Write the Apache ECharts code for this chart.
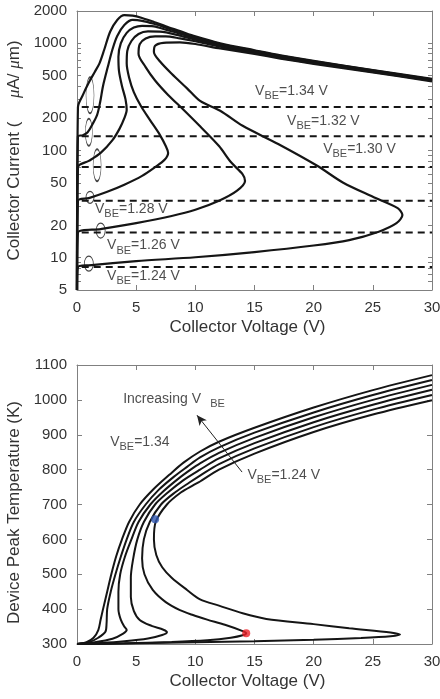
<!DOCTYPE html>
<html>
<head>
<meta charset="utf-8">
<script src="https://cdn.jsdelivr.net/npm/echarts@6/dist/echarts.min.js"></script>
<style>
html, body { margin: 0; padding: 0; background: #fff; }
#chart { width: 440px; height: 699px; }
</style>
</head>
<body>
<div id="chart"></div>
<script>
// V_BE of each curve, top to bottom
var vbeNames = ['1.34', '1.32', '1.30', '1.28', '1.26', '1.24'];

// top panel: collector current (uA/um) vs collector voltage (V)
var currentTicks = [5, 10, 20, 50, 100, 200, 500, 1000, 2000];
var currentMinorTicks = [6, 7, 8, 9, 30, 40, 60, 70, 80, 90, 300, 400, 600, 700, 800, 900];
var dashLevels = [254, 136, 70, 34, 17.2, 8.2];

var iv134 = [[0,5],[0.08,254],[0.5,330],[1.0,430],[1.5,540],[1.9,650],[2.3,870],[2.8,1280],[3.4,1650],[4.0,1830],[4.7,1810],[5.5,1720],[6.5,1580],[7.5,1440],[8.7,1300],[10,1160],[12.1,1000],[15,860],[17.2,770],[20,685],[25,563],[30,466]];
var iv132 = [[0,5],[0.08,136],[0.5,139],[0.9,148],[1.3,175],[1.7,215],[1.95,280],[2.2,400],[2.6,600],[3.0,880],[3.4,1170],[4.0,1480],[4.7,1650],[5.5,1620],[6.5,1520],[7.5,1400],[8.7,1265],[10,1135],[12.1,985],[15,850],[17.2,762],[20,678],[25,558],[30,462]];
var iv130 = [[0,5],[0.08,70],[1,80],[2,95],[3,125],[3.6,160],[4.0,200],[4.2,240],[4.1,300],[3.8,400],[3.55,550],[3.5,750],[3.7,1000],[4.2,1250],[4.8,1400],[5.5,1455],[6.5,1440],[7.5,1340],[8.7,1230],[10,1110],[12.1,968],[15,838],[17.2,752],[20,670],[25,553],[30,457]];
var iv128 = [[0,5],[0.08,34],[1,36],[2.5,41],[4,48],[5.5,58],[6.6,70],[7.4,82],[7.7,95],[7.5,110],[7,140],[6.2,190],[5.4,260],[4.8,350],[4.4,480],[4.2,650],[4.25,850],[4.6,1050],[5.2,1220],[6,1290],[7,1285],[8.7,1180],[10,1080],[12.1,950],[15,826],[17.2,742],[20,662],[25,548],[30,452]];
var iv126 = [[0,5],[0.08,17.2],[2,18.5],[5,21],[8,24.5],[10,28],[12,34],[13.5,42],[14.2,52],[14,60],[13,78],[12,110],[10.4,168],[9,240],[7.7,330],[6.6,450],[5.8,600],[5.2,800],[5.3,980],[5.8,1110],[6.6,1160],[7.5,1160],[8.7,1110],[10,1045],[12.1,928],[15,812],[17.2,732],[20,653],[25,542],[30,447]];
var iv124 = [[0,5],[0.08,8.2],[1,8.5],[5,9.3],[10,10.1],[15,11.3],[20,13],[23,14.6],[25.5,17.5],[27,21],[27.5,25],[27.1,29],[25,37],[22.5,50],[20.3,72],[17,115],[14,170],[12.1,235],[10.4,290],[9.3,380],[8,520],[7,680],[6.5,830],[6.6,950],[7.3,1010],[8.7,1020],[10,985],[12.1,895],[15,795],[17.2,720],[20,643],[25,536],[30,442]];
var ivCurves = [iv134, iv132, iv130, iv128, iv126, iv124];

// start-point ellipses and label anchors of the top panel
var ellipseCenters = [[1.1,328],[1.0,148],[1.7,73],[1.1,36.6],[2.0,17.9],[1.0,8.8]];
var topLabelAnchors = [[15.05,358],[17.75,188],[20.8,103],[1.52,28.2],[2.54,13.0],[2.54,6.8]];

// bottom panel: device peak temperature (K) vs collector voltage (V)
var tempTicks = [300, 400, 500, 600, 700, 800, 900, 1000, 1100];
var tv134 = [[0,300],[0.8,305],[1.4,318],[1.8,340],[2.0,370],[2.2,400],[2.55,450],[2.9,500],[3.3,550],[3.8,600],[4.4,650],[5.3,700],[6.5,745],[7.8,785],[9,820],[10.4,852],[12,880],[15,920],[20,978],[25,1028],[30,1071]];
var tv132 = [[0,300],[1,305],[1.8,318],[2.4,335],[2.5,360],[2.55,400],[2.85,450],[3.25,500],[3.7,550],[4.2,600],[4.8,650],[5.8,700],[6.9,742],[8.2,780],[9.3,808],[10.4,835],[12,864],[15,906],[20,964],[25,1014],[30,1057]];
var tv130 = [[0,300],[1.5,305],[3,315],[3.9,330],[4.2,340],[4.0,350],[3.7,370],[3.5,400],[3.5,450],[3.65,500],[4.05,550],[4.6,600],[5.2,650],[6.2,700],[7.3,738],[8.6,775],[9.6,800],[10.4,818],[12,848],[15,891],[20,950],[25,1000],[30,1043]];
var tv128 = [[0,300],[2,303],[4,308],[6,316],[7.2,326],[7.6,334],[7.3,341],[6.3,352],[5.3,369],[4.8,395],[4.55,435],[4.55,490],[4.75,545],[5.1,600],[5.65,650],[6.6,700],[7.7,735],[9,770],[10.4,800],[12,832],[15,876],[20,936],[25,986],[30,1029]];
var tv126 = [[0,300],[4,302],[8,306],[11,311],[13,318],[14,325],[14.3,331],[14,337],[12.5,355],[11,370],[9.8,383],[8.7,397],[7.5,420],[6.4,455],[5.7,500],[5.5,545],[5.65,600],[6.15,650],[7.1,700],[8.3,735],[9.5,763],[10.4,783],[12,816],[15,861],[20,922],[25,972],[30,1014]];
var tv124 = [[0,300],[5,302],[10,305],[15,308],[20,312],[24,317],[26.5,322],[27.3,327],[26.5,333],[23,345],[20,357],[16,372],[14,388],[12,410],[10.4,428],[9.3,455],[8,490],[7.2,520],[6.7,555],[6.5,600],[6.65,650],[7.6,700],[8.8,735],[9.8,755],[10.4,766],[12,800],[15,846],[20,908],[25,958],[30,999]];
var tvCurves = [tv134, tv132, tv130, tv128, tv126, tv124];

var bluePoint = [6.6, 658];
var redPoint = [14.3, 331];
var arrowFrom = [13.95, 793];
var arrowTo = [10.14, 956];

var font = '"Liberation Sans", Arial, sans-serif';
var textColor = '#333';
var axisColor = '#808080';
var curveColor = '#151515';

function lg(p) {
    return [p[0], Math.log10(p[1])];
}

function xAxes(grid) {
    return [{
        type: 'value', gridIndex: grid, min: 0, max: 30, interval: 5, position: 'bottom',
        name: 'Collector Voltage (V)', nameLocation: 'middle', nameGap: 29,
        nameTextStyle: { fontSize: 17, color: textColor, fontFamily: font, padding: [0, 14, 0, 0] },
        axisLine: { show: true, onZero: false, lineStyle: { color: axisColor, width: 1 } },
        axisTick: { show: true, inside: true, length: 5, lineStyle: { color: axisColor } },
        axisLabel: { fontSize: 15, color: textColor, fontFamily: font, margin: 10 },
        splitLine: { show: false }
    }, {
        type: 'value', gridIndex: grid, min: 0, max: 30, interval: 5, position: 'top',
        axisLine: { show: true, onZero: false, lineStyle: { color: axisColor, width: 1 } },
        axisTick: { show: true, inside: true, length: 5, lineStyle: { color: axisColor } },
        axisLabel: { show: false },
        splitLine: { show: false }
    }];
}

var logMajor = currentTicks.map(Math.log10);
var logAll = logMajor.concat(currentMinorTicks.map(Math.log10));

var yAxes = [{
    type: 'value', gridIndex: 0, position: 'left',
    min: Math.log10(currentTicks[0]), max: Math.log10(currentTicks[currentTicks.length - 1]),
    name: 'Collector Current (     {i|μ}A/ {i|μ}m)', nameLocation: 'middle', nameGap: 48,
    nameTextStyle: { fontSize: 17, color: textColor, fontFamily: font,
        rich: { i: { fontSize: 17, color: textColor, fontFamily: '"Liberation Serif", serif', fontStyle: 'italic' } } },
    axisLine: { show: true, onZero: false, lineStyle: { color: axisColor, width: 1 } },
    axisTick: { show: true, inside: true, length: 4, customValues: logAll, lineStyle: { color: axisColor } },
    axisLabel: { fontSize: 15, color: textColor, fontFamily: font, margin: 10, customValues: logMajor,
        formatter: function (v) { return String(Math.round(Math.pow(10, v))); } },
    splitLine: { show: false }
}, {
    type: 'value', gridIndex: 0, position: 'right',
    min: Math.log10(currentTicks[0]), max: Math.log10(currentTicks[currentTicks.length - 1]),
    axisLine: { show: true, onZero: false, lineStyle: { color: axisColor, width: 1 } },
    axisTick: { show: true, inside: true, length: 4, customValues: logAll, lineStyle: { color: axisColor } },
    axisLabel: { show: false },
    splitLine: { show: false }
}, {
    type: 'value', gridIndex: 1, position: 'left',
    min: tempTicks[0], max: tempTicks[tempTicks.length - 1], interval: 100,
    name: 'Device Peak Temperature (K)', nameLocation: 'middle', nameGap: 48,
    nameTextStyle: { fontSize: 17, color: textColor, fontFamily: font, padding: [0, 16, 0, 0] },
    axisLine: { show: true, onZero: false, lineStyle: { color: axisColor, width: 1 } },
    axisTick: { show: true, inside: true, length: 5, lineStyle: { color: axisColor } },
    axisLabel: { fontSize: 15, color: textColor, fontFamily: font, margin: 10,
        formatter: function (v) { return String(v); } },
    splitLine: { show: false }
}, {
    type: 'value', gridIndex: 1, position: 'right',
    min: tempTicks[0], max: tempTicks[tempTicks.length - 1], interval: 100,
    axisLine: { show: true, onZero: false, lineStyle: { color: axisColor, width: 1 } },
    axisTick: { show: true, inside: true, length: 5, lineStyle: { color: axisColor } },
    axisLabel: { show: false },
    splitLine: { show: false }
}];

var labelRich = {
    v: { fontSize: 14, color: '#222', fontFamily: font },
    s: { fontSize: 11, color: '#222', fontFamily: font, padding: [10, 0, 0, 0] }
};

var series = [];

// dashed reference levels
dashLevels.forEach(function (lvl) {
    series.push({
        type: 'line', xAxisIndex: 0, yAxisIndex: 0, symbol: 'none', silent: true,
        data: [[0.4, Math.log10(lvl)], [30, Math.log10(lvl)]],
        lineStyle: { color: curveColor, width: 2, type: [7, 5] }, z: 2
    });
});

ivCurves.forEach(function (c) {
    series.push({
        type: 'line', xAxisIndex: 0, yAxisIndex: 0, symbol: 'none', smooth: 0.3, silent: true,
        data: c.map(lg), lineStyle: { color: curveColor, width: 2.2 }, z: 3
    });
});

var ellipseSizes = [[8, 36], [7, 27], [8, 32], [8, 12], [9, 15], [9, 15]];
series.push({
    type: 'scatter', xAxisIndex: 0, yAxisIndex: 0, silent: true,
    data: ellipseCenters.map(lg),
    symbol: 'circle',
    symbolSize: function (val, params) { return ellipseSizes[params.dataIndex]; },
    itemStyle: { color: 'rgba(0,0,0,0)', borderColor: curveColor, borderWidth: 1 }, z: 4
});

series.push({
    type: 'scatter', xAxisIndex: 0, yAxisIndex: 0, silent: true,
    data: topLabelAnchors.map(lg), symbolSize: 0,
    label: {
        show: true, position: [0, 0], align: 'left', verticalAlign: 'middle',
        formatter: function (p) { return '{v|V}{s|BE}{v|=' + vbeNames[p.dataIndex] + ' V}'; },
        rich: labelRich
    }, z: 5
});

tvCurves.forEach(function (c) {
    series.push({
        type: 'line', xAxisIndex: 2, yAxisIndex: 2, symbol: 'none', smooth: 0.3, silent: true,
        data: c, lineStyle: { color: curveColor, width: 2 }, z: 3
    });
});

series.push({
    type: 'scatter', xAxisIndex: 2, yAxisIndex: 2, silent: true,
    data: [bluePoint], symbolSize: 8, itemStyle: { color: '#2f56b0' }, z: 6
});
series.push({
    type: 'scatter', xAxisIndex: 2, yAxisIndex: 2, silent: true,
    data: [redPoint], symbolSize: 8, itemStyle: { color: '#ee2128' }, z: 6
});

var bottomLabels = [
    { pos: [3.9, 1002], text: '{v|Increasing V}{s|   BE}' },
    { pos: [2.8, 879], text: '{v|V}{s|BE}{v|=1.34}' },
    { pos: [14.4, 784], text: '{v|V}{s|BE}{v|=1.24 V}' }
];
series.push({
    type: 'scatter', xAxisIndex: 2, yAxisIndex: 2, silent: true,
    data: bottomLabels.map(function (b) { return b.pos; }), symbolSize: 0,
    label: {
        show: true, position: [0, 0], align: 'left', verticalAlign: 'middle',
        formatter: function (p) { return bottomLabels[p.dataIndex].text; },
        rich: labelRich
    },
    markLine: {
        silent: true, symbol: ['none', 'arrow'], symbolSize: [7, 10],
        label: { show: false },
        lineStyle: { color: '#222', width: 1, type: 'solid' },
        data: [[{ coord: arrowFrom }, { coord: arrowTo }]]
    }, z: 5
});

var chart = echarts.init(document.getElementById('chart'));
chart.setOption({
    animation: false,
    backgroundColor: '#fff',
    grid: [
        { left: 77, top: 11, width: 355, height: 279, containLabel: false, outerBoundsMode: 'none' },
        { left: 77, top: 365, width: 355, height: 279, containLabel: false, outerBoundsMode: 'none' }
    ],
    xAxis: xAxes(0).concat(xAxes(1)),
    yAxis: yAxes,
    series: series
});
</script>
</body>
</html>
